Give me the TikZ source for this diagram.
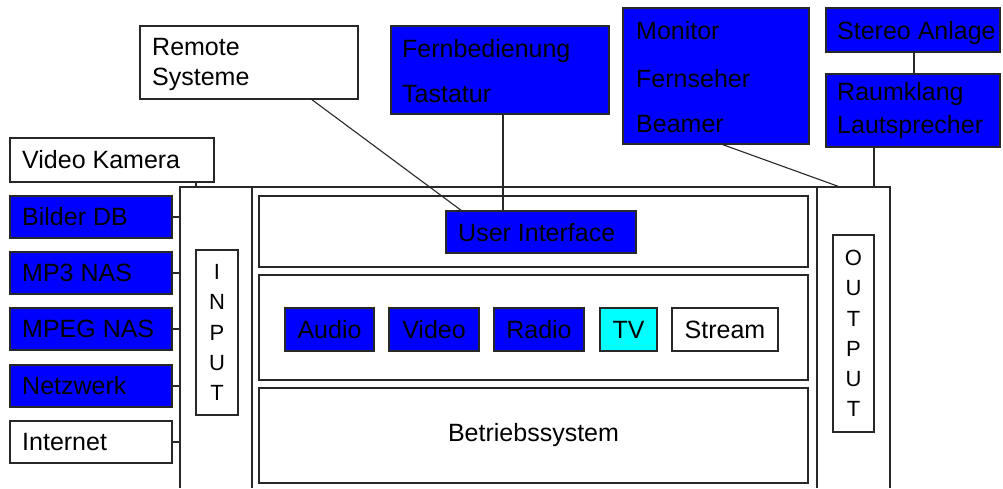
\documentclass[tikz,border=0pt]{standalone}
\usepackage{fontspec}
\setmainfont{Liberation Sans}
\usetikzlibrary{calc}
\definecolor{pblue}{RGB}{0,0,255}
\definecolor{pcyan}{RGB}{0,255,255}
\definecolor{edge}{RGB}{40,40,40}
\begin{document}
\begin{tikzpicture}[x=1pt,y=-1pt,
  bx/.style={draw=edge,line width=1.2pt,inner sep=0pt,outer sep=0pt,anchor=north west},
  wbox/.style={bx,fill=white},
  bbox/.style={bx,fill=pblue},
  cbox/.style={bx,fill=pcyan},
  txt/.style={inner sep=0pt,anchor=base west,font=\fontsize{25}{29}\selectfont},
  ctxt/.style={inner sep=0pt,font=\fontsize{25}{29}\selectfont},
  vtxt/.style={inner sep=0pt,align=center,font=\fontsize{22}{30.3}\selectfont},
  conn/.style={draw=edge,line width=1.1pt}]
\useasboundingbox (0,0) rectangle (1003,488);
\fill[white] (0,0) rectangle (1003,488);

% frame and columns
\coordinate (fTL) at (180,187);
\coordinate (fTR) at (890,187);
\draw[conn] (180,488) -- (fTL) -- (fTR) -- (890,488);
\draw[conn] (252,187) -- (252,488);
\draw[conn] (817,187) -- (817,488);

% layers
\node[wbox,minimum width=549,minimum height=71] (layer1) at (259,196) {};
\node[wbox,minimum width=549,minimum height=105] (layer2) at (259,275) {};
\node[wbox,minimum width=549,minimum height=95] (layer3) at (259,388) {};
\node[ctxt] at (layer3.center) {Betriebssystem};

% INPUT / OUTPUT labels
\node[wbox,minimum width=42,minimum height=165] (inbox) at (196,250) {};
\node[vtxt] at (inbox.center) {I\\N\\P\\U\\T};
\node[wbox,minimum width=41,minimum height=197] (outbox) at (833,235) {};
\node[vtxt] at (outbox.center) {O\\U\\T\\P\\U\\T};

% modules
\node[bbox,minimum width=89,minimum height=43] (audio) at (285,308) {};
\node[ctxt] at (audio.center) {Audio};
\node[bbox,minimum width=90,minimum height=43] (video) at (389,308) {};
\node[ctxt] at (video.center) {Video};
\node[bbox,minimum width=90,minimum height=43] (radio) at (494,308) {};
\node[ctxt] at (radio.center) {Radio};
\node[cbox,minimum width=57,minimum height=43] (tv) at (600,308) {};
\node[ctxt] at (tv.center) {TV};
\node[wbox,minimum width=106,minimum height=43] (stream) at (672,308) {};
\node[ctxt] at (stream.center) {Stream};

% user interface
\node[bbox,minimum width=190,minimum height=42] (ui) at (446,211) {};
\node[txt] at ([shift={(12,30)}]ui.north west) {User Interface};

% left sources
\node[wbox,minimum width=204,minimum height=44] (vk) at (10,138) {};
\node[txt] at ([shift={(12,30)}]vk.north west) {Video Kamera};
\node[bbox,minimum width=162,minimum height=42] (bilder) at (10,196) {};
\node[txt] at ([shift={(12,29)}]bilder.north west) {Bilder DB};
\node[bbox,minimum width=162,minimum height=42] (mp3) at (10,252) {};
\node[txt] at ([shift={(12,29)}]mp3.north west) {MP3 NAS};
\node[bbox,minimum width=162,minimum height=42] (mpeg) at (10,308) {};
\node[txt] at ([shift={(12,29)}]mpeg.north west) {MPEG NAS};
\node[bbox,minimum width=162,minimum height=42] (netz) at (10,365) {};
\node[txt] at ([shift={(12,29)}]netz.north west) {Netzwerk};
\node[wbox,minimum width=162,minimum height=42] (inet) at (10,421) {};
\node[txt] at ([shift={(12,29)}]inet.north west) {Internet};

% top boxes
\node[wbox,minimum width=218,minimum height=73] (remote) at (140,26) {};
\node[txt] at ([shift={(12,29)}]remote.north west) {Remote};
\node[txt] at ([shift={(12,59)}]remote.north west) {Systeme};
\node[bbox,minimum width=218,minimum height=88] (fern) at (391,26) {};
\node[txt] at ([shift={(11,31)}]fern.north west) {Fernbedienung};
\node[txt] at ([shift={(11,76)}]fern.north west) {Tastatur};
\node[bbox,minimum width=186,minimum height=136] (monitor) at (623,8) {};
\node[txt] at ([shift={(13,31)}]monitor.north west) {Monitor};
\node[txt] at ([shift={(13,79)}]monitor.north west) {Fernseher};
\node[txt] at ([shift={(13,124)}]monitor.north west) {Beamer};
\node[bbox,minimum width=174,minimum height=44] (stereo) at (826,8) {};
\node[txt] at ([shift={(11,31)}]stereo.north west) {Stereo Anlage};
\node[bbox,minimum width=174,minimum height=73] (raum) at (826,74) {};
\node[txt] at ([shift={(11,26)}]raum.north west) {Raumklang};
\node[txt] at ([shift={(11,59)}]raum.north west) {Lautsprecher};

% connectors
\coordinate (fL) at (180,300);
\coordinate (fVK) at (196,187);
\coordinate (fMon) at (840,187);
\coordinate (fRaum) at (874,187);
\draw[conn] (vk.south -| fVK) -- (fVK);
\foreach \b in {bilder,mp3,mpeg,netz,inet}
  \draw[conn] (\b.east) -- (\b.east -| fL);
\draw[conn] ([xshift=171]remote.south west) -- ([xshift=16]ui.north west);
\draw[conn] ([xshift=112]fern.south west) coordinate (fa) -- (fa |- ui.north);
\draw[conn] ([xshift=98]monitor.south west) -- (fMon);
\draw[conn] ([xshift=88]stereo.south west) coordinate (sa) -- (sa |- raum.north);
\draw[conn] (raum.south -| fRaum) -- (fRaum);
\end{tikzpicture}
\end{document}
